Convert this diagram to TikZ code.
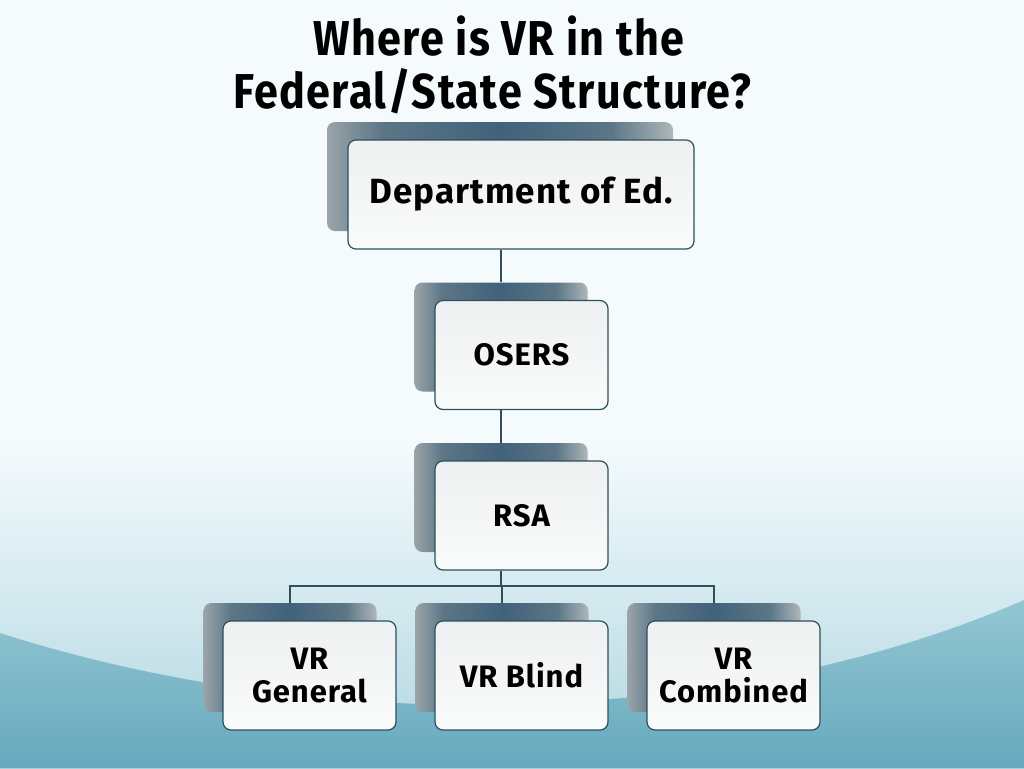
\documentclass[tikz,border=0pt]{standalone}
\usepackage{fontspec}
\setmainfont{Fira Sans}[FakeStretch=1.0, LetterSpace=3]
\newfontfamily\titlefont{Fira Sans}[FakeStretch=0.88, LetterSpace=3]
\definecolor{bgtop}{HTML}{F5FBFD}
\definecolor{bgmid}{HTML}{B0D6E0}
\definecolor{waveA}{HTML}{93C6D3}
\definecolor{waveB}{HTML}{66A9BD}
\definecolor{linec}{HTML}{2D4F5E}
\definecolor{shL}{HTML}{9AA4A9}
\definecolor{shQ}{HTML}{5C7686}
\definecolor{shM}{HTML}{41627A}
\definecolor{shR}{HTML}{AEB6BA}
\definecolor{frontA}{HTML}{EEF0F1}
\definecolor{frontB}{HTML}{FAFBFB}
\pgfdeclarehorizontalshading{shadowsh}{100bp}{color(0bp)=(shL); color(25bp)=(shL); color(33bp)=(shQ); color(50bp)=(shM); color(66bp)=(shQ); color(75bp)=(shR); color(100bp)=(shR)}
\begin{document}
\begin{tikzpicture}[x=1pt,y=-1pt,
  frontbox/.style={draw=linec, line width=1.2pt, rounded corners=8pt,
    top color=frontA, bottom color=frontB, inner sep=0pt,
    minimum width=173pt, minimum height=109pt, align=center,
    font=\bfseries\fontsize{31}{33}\selectfont},
  shadowbox/.style={rounded corners=8pt, shading=shadowsh, inner sep=0pt,
    minimum width=173pt, minimum height=109pt},
  conn/.style={draw=linec, line width=1.3pt},
  titletext/.style={anchor=base, inner sep=0pt,
    font=\titlefont\bfseries\fontsize{49}{52}\selectfont}]
\useasboundingbox (0,0) rectangle (1024,768);
% background
\fill[bgtop] (0,0) rectangle (1024,768);
\shade[top color=bgtop, bottom color=bgmid] (0,440) rectangle (1024,768);
\shade[top color=waveA, bottom color=waveB] (0,633) .. controls (350,745) and (750,720) .. (1024,600) -- (1024,768) -- (0,768) -- cycle;
% title
\node[titletext] (t1) at (499,56) {Where is VR in the};
\node[titletext] (t2) at (492,108) {Federal/State Structure?};
% shadows
\node[shadowbox, minimum width=346pt] (s1) at (500,176.5) {};
\node[shadowbox] (s2) at (501,337) {};
\node[shadowbox] (s3) at (501,497.5) {};
\node[shadowbox] (s4) at (290,657.5) {};
\node[shadowbox] (s5) at (502,657.5) {};
\node[shadowbox] (s6) at (714,657.5) {};
% front boxes
\node[frontbox, minimum width=346pt, font=\bfseries\fontsize{35}{37}\selectfont] (f1) at (521,194.5) {Department of Ed.};
\node[frontbox] (f2) at (521.5,355) {OSERS};
\node[frontbox] (f3) at (521.5,515.5) {RSA};
\node[frontbox] (f4) at (309.5,675.5) {VR\\General};
\node[frontbox] (f5) at (521.5,675.5) {VR Blind};
\node[frontbox] (f6) at (733.5,675.5) {VR\\Combined};
% connectors
\draw[conn] (s2 |- f1.south) -- (s2.north);
\draw[conn] (s3 |- f2.south) -- (s3.north);
\coordinate (j) at (502,586);
\draw[conn] (s3 |- f3.south) -- (s3 |- j);
\draw[conn] (s4.north) |- (j) -| (s6.north);
\draw[conn] (j) -- (s5.north);
\end{tikzpicture}
\end{document}
